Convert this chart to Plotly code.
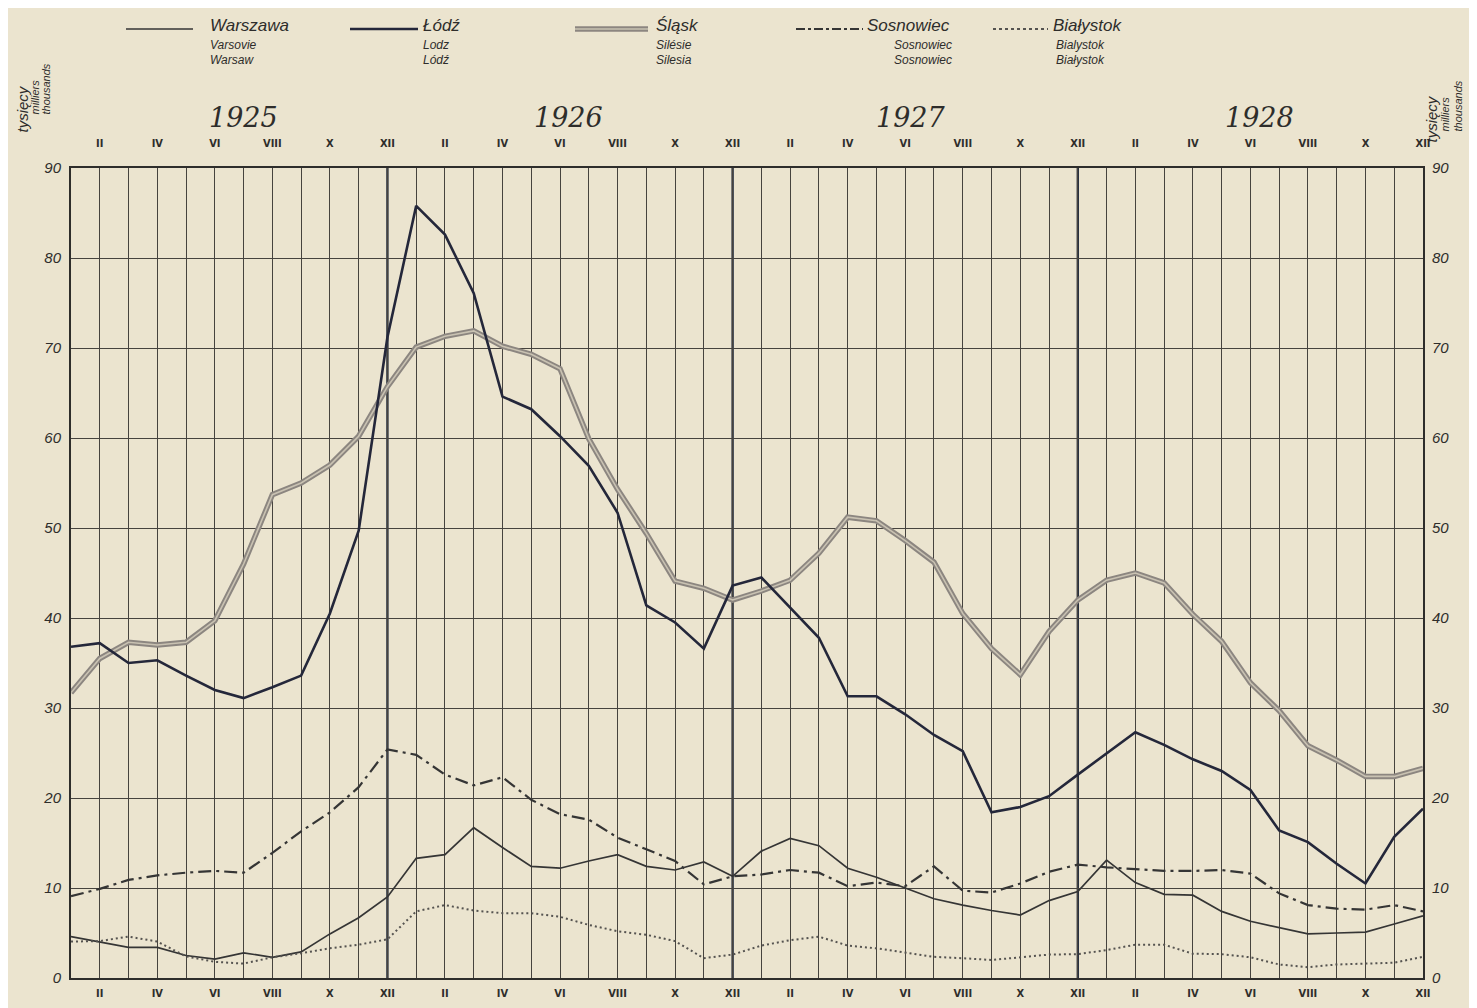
import plotly.graph_objects as go

# unemployed, thousands, monthly I.1925 - XII.1928
years = [1925, 1926, 1927, 1928]
roman = ["I", "II", "III", "IV", "V", "VI", "VII", "VIII", "IX", "X", "XI", "XII"]

warszawa = [4.6, 4.0, 3.4, 3.4, 2.5, 2.1, 2.8, 2.3, 2.9, 4.9, 6.7, 9.0,
            13.3, 13.7, 16.7, 14.5, 12.4, 12.2, 13.0, 13.7, 12.4, 12.0, 12.9, 11.3,
            14.1, 15.5, 14.7, 12.2, 11.2, 10.0, 8.8, 8.1, 7.5, 7.0, 8.6, 9.6,
            13.1, 10.6, 9.3, 9.2, 7.4, 6.3, 5.6, 4.9, 5.0, 5.1, 6.0, 6.9]
lodz = [36.8, 37.2, 35.0, 35.3, 33.6, 32.0, 31.1, 32.3, 33.6, 40.5, 49.7, 71.2,
        85.8, 82.6, 76.1, 64.6, 63.2, 60.2, 56.9, 51.7, 41.4, 39.5, 36.6, 43.6,
        44.5, 41.1, 37.8, 31.3, 31.3, 29.3, 27.0, 25.2, 18.4, 19.0, 20.2, 22.6,
        25.0, 27.3, 25.9, 24.3, 23.0, 20.9, 16.4, 15.1, 12.7, 10.5, 15.7, 18.8]
slask = [31.7, 35.5, 37.3, 37.0, 37.3, 39.7, 46.0, 53.7, 55.0, 57.0, 60.2, 65.7,
         70.1, 71.3, 71.9, 70.2, 69.3, 67.7, 59.9, 54.3, 49.4, 44.1, 43.3, 42.0,
         43.0, 44.2, 47.2, 51.2, 50.8, 48.6, 46.2, 40.5, 36.6, 33.7, 38.5, 42.0,
         44.2, 45.0, 43.9, 40.4, 37.4, 32.8, 29.7, 25.8, 24.2, 22.4, 22.4, 23.3]
sosnowiec = [9.1, 9.9, 10.9, 11.4, 11.7, 11.9, 11.7, 13.9, 16.3, 18.4, 21.2, 25.4,
             24.8, 22.6, 21.4, 22.3, 19.8, 18.2, 17.6, 15.6, 14.3, 13.0, 10.4, 11.3,
             11.5, 12.0, 11.7, 10.2, 10.6, 10.2, 12.4, 9.7, 9.5, 10.5, 11.8, 12.6,
             12.3, 12.1, 11.9, 11.9, 12.0, 11.6, 9.4, 8.1, 7.7, 7.6, 8.1, 7.4]
bialystok = [4.05, 4.1, 4.6, 4.05, 2.4, 1.8, 1.6, 2.3, 2.75, 3.3, 3.7, 4.3,
             7.4, 8.1, 7.5, 7.2, 7.2, 6.8, 5.9, 5.2, 4.8, 4.1, 2.2, 2.6,
             3.6, 4.2, 4.6, 3.6, 3.3, 2.8, 2.35, 2.2, 2.0, 2.3, 2.6, 2.65,
             3.1, 3.7, 3.7, 2.7, 2.65, 2.3, 1.5, 1.2, 1.5, 1.6, 1.7, 2.35]

legend_pl = ["Warszawa", "Łódź", "Śląsk", "Sosnowiec", "Białystok"]
legend_fr = ["Varsovie", "Lodz", "Silésie", "Sosnowiec", "Bialystok"]
legend_en = ["Warsaw", "Lódź", "Silesia", "Sosnowiec", "Białystok"]

months = list(range(len(years) * 12))
month_text = [roman[m % 12] if m % 2 == 1 else "" for m in months]

W, H = 1477, 1008
L, R, T, B = 63, 62, 160, 38
PW, PH = W - L - R, H - T - B
BG = "#ebe4cf"
INK = "#2e2d2b"
NARROW = "Liberation Sans Narrow, DejaVu Sans Condensed, Liberation Sans, sans-serif"
ITAL = "Liberation Sans, DejaVu Sans, sans-serif"


def px(x):
    return (x - L) / PW


def py(y):
    return (H - B - y) / PH


fig = go.Figure()
fig.add_trace(go.Scatter(x=months, y=slask, mode="lines", hoverinfo="skip",
                         line=dict(color="#8c8680", width=5.5)))
fig.add_trace(go.Scatter(x=months, y=slask, mode="lines", hoverinfo="skip",
                         line=dict(color="#c9c2b2", width=1.6)))
fig.add_trace(go.Scatter(x=months, y=lodz, mode="lines",
                         line=dict(color="#24273a", width=2.6)))
fig.add_trace(go.Scatter(x=months, y=warszawa, mode="lines",
                         line=dict(color="#353535", width=1.7)))
fig.add_trace(go.Scatter(x=months, y=sosnowiec, mode="lines",
                         line=dict(color="#353535", width=2.2, dash="13px,5px,3px,5px")))
fig.add_trace(go.Scatter(x=months, y=bialystok, mode="lines", xaxis="x2", yaxis="y2",
                         line=dict(color="#555350", width=2, dash="2px,3px")))

xcommon = dict(range=[0, months[-1]], tickmode="array", tickvals=months, ticktext=month_text,
               ticks="outside", tickcolor="rgba(0,0,0,0)",
               tickfont=dict(family=NARROW, size=11, color=INK, weight="bold"),
               zeroline=False)
ycommon = dict(range=[0, 90], tickmode="linear", tick0=0, dtick=10,
               ticks="outside", ticklen=5, tickcolor="rgba(0,0,0,0)",
               tickfont=dict(family=ITAL, size=15, color=INK, style="italic"),
               zeroline=False)

fig.update_layout(
    width=W, height=H, margin=dict(l=L, r=R, t=T, b=B),
    paper_bgcolor=BG, plot_bgcolor=BG, showlegend=False,
    xaxis=dict(**xcommon, side="bottom", ticklen=4, showgrid=True, gridcolor="#46433e",
               gridwidth=1, showline=True, mirror=True, linecolor=INK, linewidth=2),
    xaxis2=dict(**xcommon, side="top", ticklen=16, overlaying="x", matches="x", showgrid=False),
    yaxis=dict(**ycommon, side="left", showgrid=True, gridcolor="#46433e", gridwidth=1,
               showline=True, mirror=True, linecolor=INK, linewidth=2),
    yaxis2=dict(**ycommon, side="right", overlaying="y", matches="y", showgrid=False),
)

# thicker lines closing each year
for k in range(1, len(years)):
    fig.add_shape(type="line", xref="x", yref="paper", x0=12 * k - 1, x1=12 * k - 1,
                  y0=0, y1=1, line=dict(width=2.4, color="#283040"), layer="below")

# year headings
year_x = [6.0, 17.3, 29.2, 41.3]
for yr, xv in zip(years, year_x):
    fig.add_annotation(x=xv, y=py(110), xref="x", yref="paper", text=str(yr), showarrow=False,
                       xanchor="center", yanchor="middle",
                       font=dict(family="DejaVu Serif, Liberation Serif, serif", size=27,
                                 color=INK, style="italic"))

# unit labels on both sides
units = [("tysięcy", 15), ("milliers", 11), ("thousands", 11)]
left_pos = [(14, 127), (26, 109), (37, 109)]
right_pos = [(1423, 137), (1437, 126), (1450, 126)]
for (txt, fs), (lx, ly), (rx, ry) in zip(units, left_pos, right_pos):
    for xx, yy in ((lx, ly), (rx, ry)):
        fig.add_annotation(x=px(xx), y=py(yy), xref="paper", yref="paper", text=txt,
                           textangle=-90, showarrow=False, xanchor="center", yanchor="bottom",
                           font=dict(family=ITAL, size=fs, color=INK, style="italic"))

# legend drawn as a header row
key_x = [(118, 185, 200), (342, 410, 413), (567, 640, 646), (788, 855, 857), (985, 1040, 1043)]
sub_x = [200, 413, 646, 884, 1046]
key_style = [
    [dict(color="#353535", width=1.7)],
    [dict(color="#24273a", width=2.6)],
    [dict(color="#8c8680", width=5.5), dict(color="#c9c2b2", width=1.6)],
    [dict(color="#353535", width=2, dash="dashdot")],
    [dict(color="#555350", width=2, dash="dot")],
]
for i, name in enumerate(legend_pl):
    x0, x1, xt = key_x[i]
    for st in key_style[i]:
        fig.add_shape(type="line", xref="paper", yref="paper", x0=px(x0), x1=px(x1),
                      y0=py(21), y1=py(21), line=st)
    fig.add_annotation(x=px(xt), y=py(17), xref="paper", yref="paper", text=name,
                       showarrow=False, xanchor="left", yanchor="middle",
                       font=dict(family=ITAL, size=17, color=INK, style="italic"))
    for txt, yy in ((legend_fr[i], 37), (legend_en[i], 52)):
        fig.add_annotation(x=px(sub_x[i]), y=py(yy), xref="paper", yref="paper", text=txt,
                           showarrow=False, xanchor="left", yanchor="middle",
                           font=dict(family=ITAL, size=12, color=INK, style="italic"))

fig.write_html("out.html")
